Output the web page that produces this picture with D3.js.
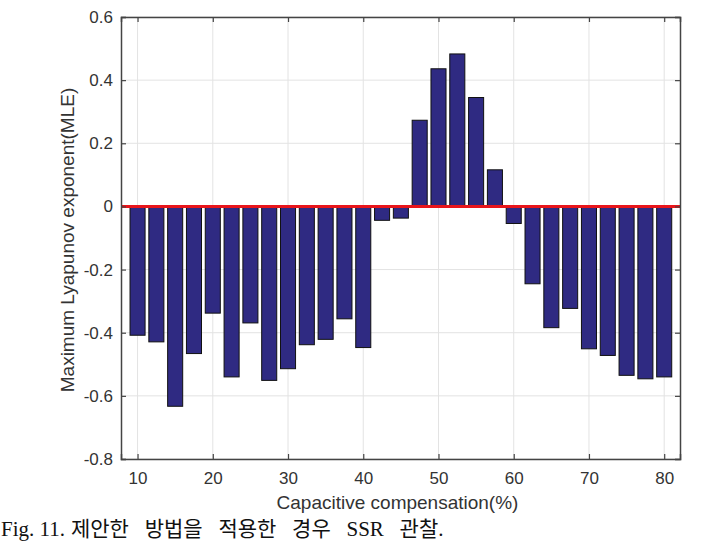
<!DOCTYPE html>
<html>
<head>
<meta charset="utf-8">
<script src="https://cdn.jsdelivr.net/npm/d3@7"></script>
<style>
body { margin: 0; background: #fff; }
svg { display: block; }
.tick text { font-family: "Liberation Sans", Arial, sans-serif; font-size: 17px; fill: #333; }
</style>
</head>
<body>
<svg id="chart" width="701" height="550"></svg>
<script>
// capacitive compensation (%) and MLE
var comp = [10, 12.5, 15, 17.5, 20, 22.5, 25, 27.5, 30, 32.5, 35, 37.5, 40, 42.5, 45,
  47.5, 50, 52.5, 55, 57.5, 60, 62.5, 65, 67.5, 70, 72.5, 75, 77.5, 80];
var mle = [-0.408, -0.429, -0.633, -0.466, -0.338, -0.540, -0.369, -0.551, -0.514, -0.438,
  -0.421, -0.356, -0.447, -0.044, -0.037, 0.273, 0.436, 0.483, 0.345, 0.116, -0.054,
  -0.245, -0.384, -0.323, -0.451, -0.472, -0.535, -0.546, -0.540];
var xTicks = [10, 20, 30, 40, 50, 60, 70, 80];
var yTicks = [-0.8, -0.6, -0.4, -0.2, 0, 0.2, 0.4, 0.6];

var margin = {top: 17, right: 21, bottom: 91, left: 121};
var W = 701, H = 550;
var width = W - margin.left - margin.right, height = H - margin.top - margin.bottom;

var svg = d3.select("#chart");
var g = svg.append("g").attr("transform", "translate(" + margin.left + "," + margin.top + ")");

var x = d3.scaleLinear().domain([7.8, 82.1]).range([0, width]);
var y = d3.scaleLinear().domain([-0.8, 0.6]).range([height, 0]);

// grid
g.selectAll(".gx").data(xTicks).enter().append("line")
  .attr("x1", function(d) { return x(d); }).attr("x2", function(d) { return x(d); })
  .attr("y1", 0).attr("y2", height).attr("stroke", "#e3e3e3").attr("stroke-width", 1);
g.selectAll(".gy").data(yTicks).enter().append("line")
  .attr("y1", function(d) { return y(d); }).attr("y2", function(d) { return y(d); })
  .attr("x1", 0).attr("x2", width).attr("stroke", "#e3e3e3").attr("stroke-width", 1);

// bars
var bw = x(comp[0] + 2.5 * 0.8) - x(comp[0]);
g.selectAll(".bar").data(comp).enter().append("rect")
  .attr("x", function(d) { return x(d) - bw / 2; })
  .attr("y", function(d, i) { return y(Math.max(0, mle[i])); })
  .attr("width", bw)
  .attr("height", function(d, i) { return Math.abs(y(mle[i]) - y(0)); })
  .attr("fill", "#2f2a82").attr("stroke", "#111").attr("stroke-width", 1);

// zero line
g.append("line").attr("x1", 0).attr("x2", width).attr("y1", y(0)).attr("y2", y(0))
  .attr("stroke", "#e8151b").attr("stroke-width", 3);

// axes (MATLAB style box with inward ticks), hyphen minus like the original
var fmtY = function(d) { return d === 0 ? "0" : d.toFixed(1); };
var ax = g.append("g").attr("transform", "translate(0," + height + ")")
  .call(d3.axisBottom(x).tickValues(xTicks).tickSize(-5).tickPadding(13).tickFormat(d3.format("d")));
var ay = g.append("g")
  .call(d3.axisLeft(y).tickValues(yTicks).tickSize(-5).tickPadding(8).tickFormat(fmtY));
var axTop = g.append("g").call(d3.axisTop(x).tickValues(xTicks).tickSize(-5).tickFormat(""));
var ayR = g.append("g").attr("transform", "translate(" + width + ",0)")
  .call(d3.axisRight(y).tickValues(yTicks).tickSize(-5).tickFormat(""));
[ax, ay, axTop, ayR].forEach(function(a) {
  a.select(".domain").attr("stroke", "#444").attr("stroke-width", 1.5);
  a.selectAll(".tick line").attr("stroke", "#444").attr("stroke-width", 1.2);
});

// labels
svg.append("text").attr("x", margin.left + width / 2 - 3).attr("y", 509)
  .attr("text-anchor", "middle").style("font-family", "Liberation Sans, Arial, sans-serif")
  .style("font-size", "19px").style("fill", "#333").text("Capacitive compensation(%)");
svg.append("text").attr("transform", "translate(74,240) rotate(-90)")
  .attr("text-anchor", "middle").style("font-family", "Liberation Sans, Arial, sans-serif")
  .style("font-size", "19px").style("fill", "#333").text("Maximum Lyapunov exponent(MLE)");
var cap = svg.append("text").attr("x", 1).attr("y", 536)
  .style("font-family", "'Liberation Serif', 'Noto Sans CJK KR', serif")
  .style("font-size", "21px").style("fill", "#111");
cap.append("tspan").text("Fig. 11.");
cap.append("tspan").attr("dx", 6).style("word-spacing", "10.5px").text("제안한 방법을 적용한 경우 SSR 관찰.");
</script>
</body>
</html>
